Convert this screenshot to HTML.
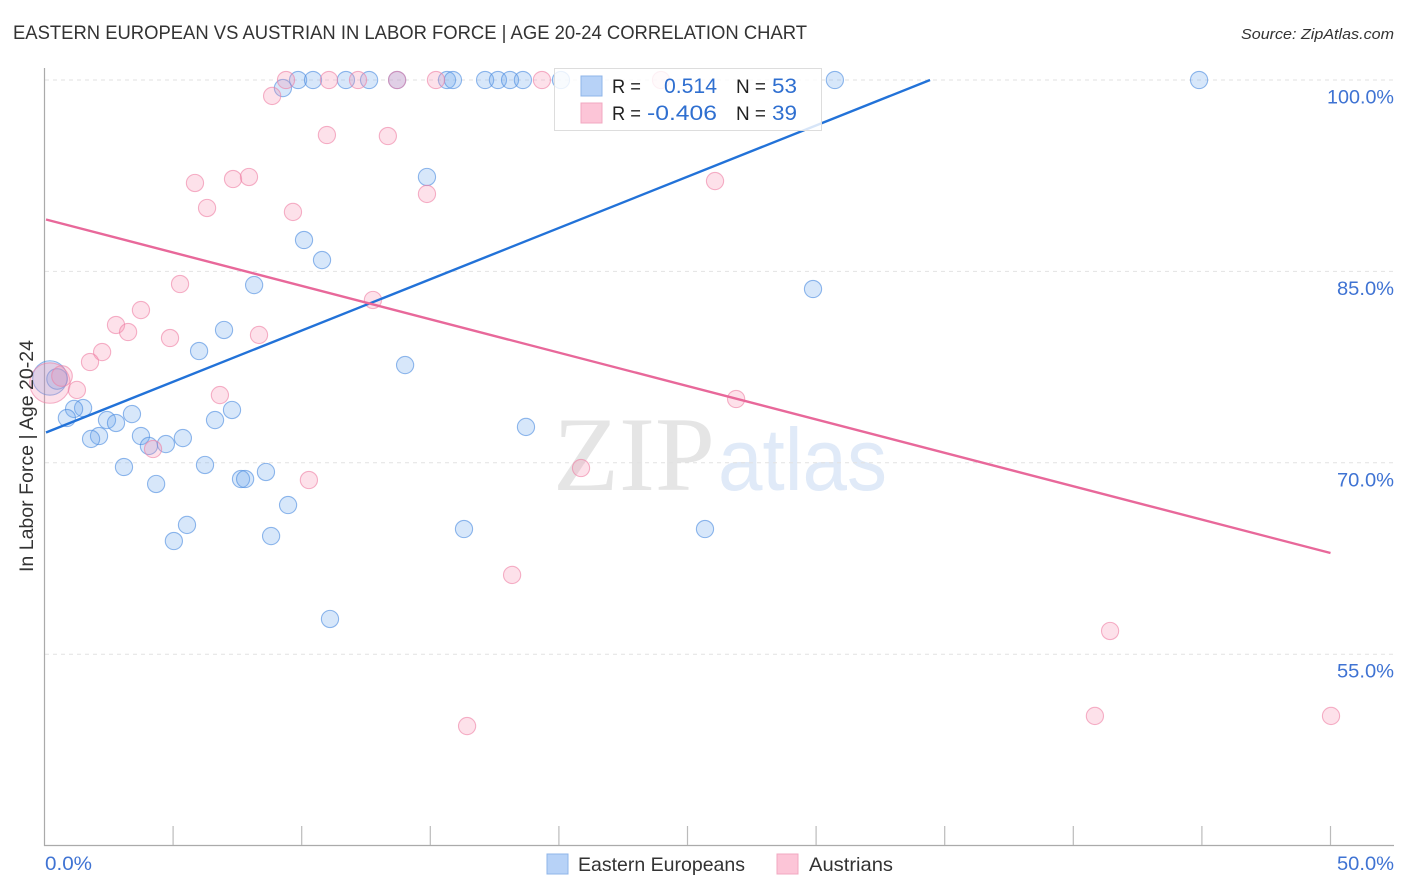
<!DOCTYPE html>
<html lang="en">
<head>
<meta charset="utf-8">
<title>Eastern European vs Austrian in Labor Force | Age 20-24 Correlation Chart</title>
<style>
html,body{margin:0;padding:0;background:#fff;}
svg{display:block;font-family:"Liberation Sans",sans-serif;}
</style>
</head>
<body>
<svg id="chart" xmlns="http://www.w3.org/2000/svg" width="1406" height="892" viewBox="0 0 1406 892">
  <rect width="1406" height="892" fill="#fff"/>
  <text x="13" y="39" font-size="19" fill="#333" textLength="794" lengthAdjust="spacingAndGlyphs">EASTERN EUROPEAN VS AUSTRIAN IN LABOR FORCE | AGE 20-24 CORRELATION CHART</text>
  <text x="1241" y="39" font-size="15" font-style="italic" fill="#333" textLength="153" lengthAdjust="spacingAndGlyphs">Source: ZipAtlas.com</text>
  <g id="watermark">
    <text x="553" y="490" font-family="'Liberation Serif',serif" font-size="106" fill="#e5e5e5" textLength="162" lengthAdjust="spacingAndGlyphs">ZIP</text>
    <text x="718" y="490" font-size="88" fill="#e0eaf8" textLength="169" lengthAdjust="spacingAndGlyphs">atlas</text>
  </g>
  <g id="grid"></g>
  <g id="axes"></g>
  <g id="points-blue"></g>
  <g id="points-pink"></g>
  <g id="trends"></g>
  <g>
    <rect x="554.5" y="68.5" width="267" height="62" fill="#fff" fill-opacity="0.82" stroke="#ddd" stroke-width="1"/>
    <rect x="581" y="76" width="21" height="20" fill="#b7d2f7" stroke="#8fb5e8" stroke-width="1"/>
    <rect x="581" y="103" width="21" height="20" fill="#fcc5d7" stroke="#f2a8c0" stroke-width="1"/>
    <text x="612" y="93" font-size="19" fill="#222" textLength="29" lengthAdjust="spacingAndGlyphs">R =</text>
    <text x="664" y="93" font-size="21" fill="#2f6fd0" textLength="53" lengthAdjust="spacingAndGlyphs">0.514</text>
    <text x="736" y="93" font-size="19" fill="#222" textLength="30" lengthAdjust="spacingAndGlyphs">N =</text>
    <text x="772" y="93" font-size="21" fill="#2f6fd0" textLength="25" lengthAdjust="spacingAndGlyphs">53</text>
    <text x="612" y="120" font-size="19" fill="#222" textLength="29" lengthAdjust="spacingAndGlyphs">R =</text>
    <text x="647" y="120" font-size="21" fill="#2f6fd0" textLength="70" lengthAdjust="spacingAndGlyphs">-0.406</text>
    <text x="736" y="120" font-size="19" fill="#222" textLength="30" lengthAdjust="spacingAndGlyphs">N =</text>
    <text x="772" y="120" font-size="21" fill="#2f6fd0" textLength="25" lengthAdjust="spacingAndGlyphs">39</text>
  </g>
  <text transform="translate(33,572) rotate(-90)" font-size="19" fill="#333" textLength="232" lengthAdjust="spacingAndGlyphs">In Labor Force | Age 20-24</text>
  <g>
    <rect x="547" y="854" width="21" height="20" fill="#b7d2f7" stroke="#8fb5e8" stroke-width="1"/>
    <text x="578" y="871" font-size="19.5" fill="#333" textLength="167" lengthAdjust="spacingAndGlyphs">Eastern Europeans</text>
    <rect x="777" y="854" width="21" height="20" fill="#fcc5d7" stroke="#f2a8c0" stroke-width="1"/>
    <text x="809" y="871" font-size="19.5" fill="#333" textLength="84" lengthAdjust="spacingAndGlyphs">Austrians</text>
  </g>
</svg>
<script>
const yTickValues = [100, 85, 70, 55];
const yTickLabels = ["100.0%", "85.0%", "70.0%", "55.0%"];
const xTickValues = [5, 10, 15, 20, 25, 30, 35, 40, 45, 50];
const xEndValues = [0, 50];
const xEndLabels = ["0.0%", "50.0%"];

const blueX = [9.86,10.44,11.72,12.62,13.71,15.65,15.88,17.13,17.63,18.10,18.60,20.08,30.73,44.89,9.27,14.87,10.09,10.79,8.15,29.88,6.98,6.01,14.02,0.21,0.49,1.50,1.15,0.87,3.40,2.43,2.78,7.29,6.63,3.75,2.12,1.81,5.38,4.06,4.72,3.09,6.24,8.61,4.34,7.64,7.80,9.47,5.54,5.03,8.81,11.10,16.31,25.68,18.72];
const blueY = [100,100,100,100,100,100,100,100,100,100,100,100,100,100,99.37,92.40,87.46,85.89,83.93,83.62,80.41,78.76,77.66,76.65,76.57,74.29,74.22,73.51,73.82,73.35,73.12,74.14,73.35,72.10,72.10,71.87,71.94,71.32,71.47,69.67,69.83,69.28,68.34,68.73,68.73,66.69,65.13,63.87,64.26,57.76,64.81,64.81,72.81];
const blueWeight = [1,1,1,1,1,1,1,1,1,1,1,1,1,1,1,1,1,1,1,1,1,1,1,2,1.2,1,1,1,1,1,1,1,1,1,1,1,1,1,1,1,1,1,1,1,1,1,1,1,1,1,1,1,1];

const pinkX = [9.39,11.06,12.19,13.71,15.22,19.34,23.97,8.85,10.98,13.35,5.85,7.33,7.95,6.32,9.66,14.87,26.07,5.27,12.77,3.75,2.78,3.25,4.88,8.34,2.24,1.77,0.21,0.68,1.26,6.82,26.89,4.22,20.86,10.28,18.18,41.43,40.84,50.02,16.43];
const pinkY = [100,100,100,100,100,100,100,98.75,95.69,95.61,91.93,92.24,92.40,89.97,89.66,91.07,92.08,84.01,82.76,81.97,80.80,80.25,79.78,80.02,78.68,77.90,76.25,76.80,75.71,75.31,75.0,71.08,69.59,68.65,61.21,56.82,50.16,50.16,49.37];
const pinkWeight = [1,1,1,1,1,1,1,1,1,1,1,1,1,1,1,1,1,1,1,1,1,1,1,1,1,1,2.35,1.2,1,1,1,1,1,1,1,1,1,1,1];

const blueTrendX = [0, 34.43];
const blueTrendY = [72.33, 100];
const pinkTrendX = [0, 50];
const pinkTrendY = [89.1, 62.93];

const NS = "http://www.w3.org/2000/svg";
const xScale = v => 44.5 + v * 25.72;
const yScale = v => 80 + (100 - v) * 12.76;
const make = (tag, parent) => {
  const el = document.createElementNS(NS, tag);
  document.getElementById(parent).appendChild(el);
  return el;
};
const set = (el, attrs) => {
  for (const k in attrs) el.setAttribute(k, attrs[k]);
};
const labelWidth = s => 10 * s.length + 7;

yTickValues.forEach((v, i) => {
  const line = make("line", "grid");
  
  
  set(line, {x1: 45, x2: 1394, y1: yScale(v), y2: yScale(v), stroke: "#e2e2e2", "stroke-width": 1, "stroke-dasharray": "4 4"});
  const label = make("text", "axes");
  
  
  const w = labelWidth(yTickLabels[i]);
  set(label, {x: 1394 - w, y: yScale(v) + 23.5, "font-size": 19, fill: "#3f73d3", textLength: w, lengthAdjust: "spacingAndGlyphs"});
  label.textContent = yTickLabels[i];
});

const yAxis = make("line", "axes");


set(yAxis, {x1: 44.5, x2: 44.5, y1: 68, y2: 846, stroke: "#aaa", "stroke-width": 1.2});

const xAxis = make("line", "axes");


set(xAxis, {x1: 44, x2: 1394, y1: 845.5, y2: 845.5, stroke: "#aaa", "stroke-width": 1.2});

xTickValues.forEach(v => {
  const tick = make("line", "axes");
  
  
  set(tick, {x1: xScale(v), x2: xScale(v), y1: 826, y2: 845, stroke: "#bbb", "stroke-width": 1.2});
});

xEndValues.forEach((v, i) => {
  const label = make("text", "axes");
  
  
  const w = labelWidth(xEndLabels[i]);
  set(label, {x: i === 0 ? xScale(v) + 0.5 : 1394 - w, y: 870, "font-size": 19, fill: "#3f73d3", textLength: w, lengthAdjust: "spacingAndGlyphs"});
  label.textContent = xEndLabels[i];
});

blueX.forEach((v, i) => {
  const c = make("circle", "points-blue");
  
  
  set(c, {cx: xScale(v), cy: yScale(blueY[i]), r: 8.6 * blueWeight[i], fill: "#6aa5ec", "fill-opacity": 0.27, stroke: "#4a8ae0", "stroke-opacity": 0.6, "stroke-width": 1.1});
});

pinkX.forEach((v, i) => {
  const c = make("circle", "points-pink");
  
  
  set(c, {cx: xScale(v), cy: yScale(pinkY[i]), r: 8.6 * pinkWeight[i], fill: "#f78fb0", "fill-opacity": 0.27, stroke: "#ee7fa4", "stroke-opacity": 0.6, "stroke-width": 1.1});
});

const blueLine = make("line", "trends");


set(blueLine, {x1: xScale(blueTrendX[0]) + 1.5, y1: yScale(blueTrendY[0]) - 0.6, x2: xScale(blueTrendX[1]), y2: yScale(blueTrendY[1]), stroke: "#2272d8", "stroke-width": 2.4});

const pinkLine = make("line", "trends");


set(pinkLine, {x1: xScale(pinkTrendX[0]) + 1.5, y1: yScale(pinkTrendY[0]) + 0.4, x2: xScale(pinkTrendX[1]), y2: yScale(pinkTrendY[1]), stroke: "#e8689a", "stroke-width": 2.4});
</script>
</body>
</html>
